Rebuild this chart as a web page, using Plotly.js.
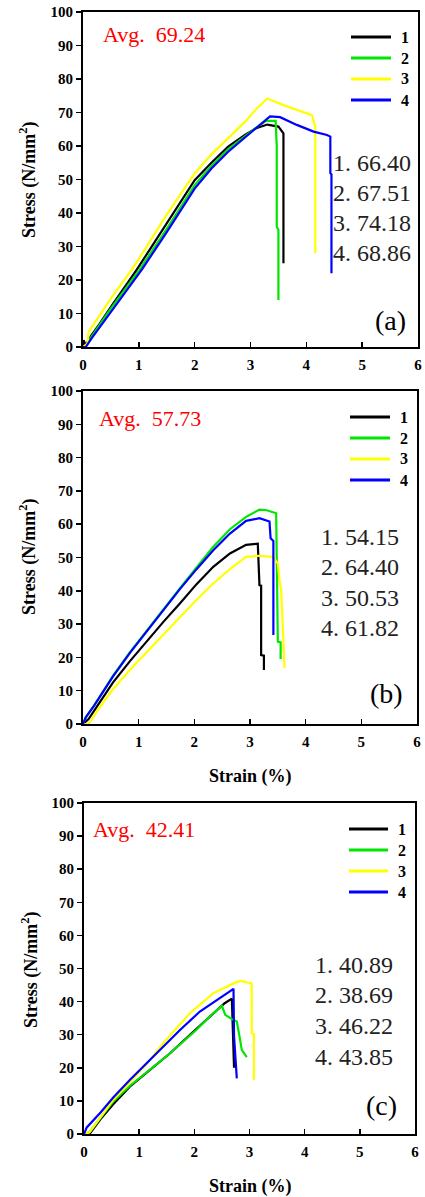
<!DOCTYPE html>
<html>
<head>
<meta charset="utf-8">
<script src="https://cdn.plot.ly/plotly-3.0.1.min.js"></script>
<style>html,body{margin:0;padding:0;background:#fff;}#chart{width:425px;height:1197px;}</style>
</head>
<body>
<div id="chart"></div>
<script>
// ---------- DATA ----------
const seriesNames = ["1", "2", "3", "4"];
const seriesColors = ["#000000", "#00e600", "#ffff00", "#0000ff"];
const panelLabels = ["(a)", "(b)", "(c)"];
const avgTexts = ["Avg.  69.24", "Avg.  57.73", "Avg.  42.41"];
const peakA = ["66.40", "67.51", "74.18", "68.86"];
const peakB = ["54.15", "64.40", "50.53", "61.82"];
const peakC = ["40.89", "38.69", "46.22", "43.85"];
const xTicks = [0, 1, 2, 3, 4, 5, 6];
const yTicks = [0, 10, 20, 30, 40, 50, 60, 70, 80, 90, 100];

// Panel (a)
const strainA1 = [0, 0.01, 0.05, 0.15, 0.3, 0.5, 0.96, 1.5, 2.0, 2.3, 2.6, 2.9, 3.1, 3.3, 3.5, 3.59, 3.59];
const stressA1 = [0, 2, 0.5, 3.5, 7, 12, 23, 37, 49.8, 55, 59.8, 63.3, 65.3, 66.4, 65.8, 63.8, 25];
const strainA2 = [0, 0.05, 0.15, 0.3, 0.5, 1.01, 1.5, 2.0, 2.3, 2.6, 2.9, 3.1, 3.28, 3.45, 3.47, 3.47, 3.5, 3.5];
const stressA2 = [0, 0.5, 3, 6.5, 11.5, 23, 35.3, 48.3, 54, 59, 63, 65.5, 67.51, 67.5, 60, 35.9, 35, 14];
const strainA3 = [0, 0.08, 0.1, 0.3, 0.5, 0.87, 1.0, 1.5, 2.0, 2.3, 2.6, 2.9, 3.1, 3.3, 3.59, 3.83, 4.1, 4.16, 4.16];
const stressA3 = [0, 1, 4.5, 9.5, 14.5, 23, 26.3, 39.5, 51.8, 57.5, 62.5, 67.2, 71, 74.18, 72.2, 70.7, 69.2, 65.8, 28];
const strainA4 = [0, 0.05, 0.15, 0.3, 0.5, 1.05, 1.5, 2.0, 2.3, 2.6, 2.9, 3.1, 3.35, 3.53, 3.83, 4.13, 4.37, 4.43, 4.43, 4.45, 4.45];
const stressA4 = [0, 0, 2.5, 6, 10.5, 23, 34.3, 47.3, 53.3, 58.3, 62.5, 65.5, 68.86, 68.6, 66.3, 64.3, 63.3, 62.8, 51.9, 51.5, 22];

// Panel (b)
const strainB1 = [0, 0.1, 0.3, 0.54, 0.84, 1.14, 1.44, 1.74, 2.04, 2.34, 2.64, 2.93, 3.14, 3.17, 3.2, 3.2, 3.25, 3.25];
const stressB1 = [0, 1.5, 6.5, 12.5, 18.8, 24.8, 30.6, 36.2, 42, 47.2, 51.2, 53.8, 54.15, 41.7, 41.5, 20.7, 20.5, 16.2];
const strainB2 = [0, 0.05, 0.2, 0.54, 0.84, 1.14, 1.44, 1.74, 2.04, 2.34, 2.64, 2.93, 3.17, 3.3, 3.47, 3.49, 3.5, 3.55, 3.55];
const stressB2 = [0, 2, 5.5, 14.5, 21.5, 28, 34.5, 40.7, 47, 53.2, 58.5, 62.2, 64.4, 64.2, 63.3, 40, 24.7, 24.5, 19.5];
const strainB3 = [0, 0.1, 0.3, 0.54, 0.84, 1.14, 1.44, 1.74, 2.04, 2.34, 2.64, 2.93, 3.17, 3.41, 3.5, 3.53, 3.56, 3.56, 3.6, 3.6, 3.62];
const stressB3 = [0, 0, 5, 10.5, 16.2, 21.5, 27, 32.2, 37.3, 42.2, 46.5, 50.2, 50.53, 50.2, 48.2, 43.2, 40.2, 40, 25.2, 25, 16.8];
const strainB4 = [0, 0.05, 0.2, 0.54, 0.84, 1.14, 1.44, 1.74, 2.04, 2.34, 2.64, 2.93, 3.17, 3.35, 3.37, 3.42, 3.42];
const stressB4 = [0, 2, 5.5, 14.3, 21.3, 27.8, 34.3, 40.5, 46.5, 52.2, 57.2, 61, 61.82, 60.8, 55.8, 55, 26.7];

// Panel (c)
const strainC1 = [0, 0.1, 0.3, 0.53, 0.83, 1.14, 1.56, 2.04, 2.28, 2.55, 2.68, 2.7, 2.72];
const stressC1 = [0, 0, 4.5, 9, 14.3, 18.5, 24.4, 31.8, 35.5, 39.5, 40.89, 30, 20];
const strainC2 = [0, 0.1, 0.3, 0.53, 0.83, 1.14, 1.56, 2.04, 2.28, 2.5, 2.56, 2.71, 2.77, 2.82, 2.86, 2.95];
const stressC2 = [0, 0.5, 5, 9.8, 14.5, 18.8, 24.4, 31.5, 35.5, 38.69, 36, 34.4, 34, 29.4, 25.4, 23.2];
const strainC3 = [0, 0.1, 0.3, 0.53, 0.84, 1.14, 1.44, 1.92, 2.34, 2.55, 2.71, 2.83, 3.04, 3.04, 3.08, 3.08];
const stressC3 = [0, 0.5, 5, 10.3, 15.8, 21.2, 27.5, 36.5, 42.5, 44.3, 45.5, 46.22, 45.5, 30.4, 30.2, 16.3];
const strainC4 = [0, 0.05, 0.3, 0.53, 0.83, 1.14, 1.44, 1.74, 2.1, 2.34, 2.55, 2.71, 2.72, 2.77];
const stressC4 = [0, 2, 6.5, 11, 16.3, 21.4, 26.4, 31.4, 37, 39.8, 42, 43.85, 29.4, 16.8];

const panels = [
  {xs: [strainA1, strainA2, strainA3, strainA4], ys: [stressA1, stressA2, stressA3, stressA4], peaks: peakA},
  {xs: [strainB1, strainB2, strainB3, strainB4], ys: [stressB1, stressB2, stressB3, stressB4], peaks: peakB},
  {xs: [strainC1, strainC2, strainC3, strainC4], ys: [stressC1, stressC2, stressC3, stressC4], peaks: peakC}
];

// ---------- LAYOUT GEOMETRY (pixels) ----------
const W = 425, H = 1197;
const fx = p => p / W;
const fy = p => 1 - p / H;
const geom = [
  {l: 83, r: 418, t: 12, b: 347, avg: [101, 34], legX: [351, 391], legY: [37, 58, 79, 100], valX: 331, valY: [163, 193, 223, 253], lab: [408, 320], ytitle: [28, 180], xtitle: null},
  {l: 83, r: 417, t: 391, b: 724, avg: [97, 418], legX: [350, 390], legY: [417, 438, 459, 480], valX: 319, valY: [537, 567, 598, 628], lab: [405, 693], ytitle: [28, 557], xtitle: [250, 776]},
  {l: 84, r: 415, t: 803, b: 1134, avg: [91, 829], legX: [349, 388], legY: [829, 850, 871, 892], valX: 313, valY: [965, 995, 1026, 1057], lab: [399, 1105], ytitle: [30, 970], xtitle: [250, 1186]}
];

const serif = "Liberation Serif, Times New Roman, serif";
const traces = [];
const layout = {
  width: W, height: H,
  margin: {l: 0, r: 0, t: 0, b: 0},
  paper_bgcolor: "#ffffff", plot_bgcolor: "#ffffff",
  showlegend: false,
  shapes: [], annotations: []
};

panels.forEach((p, i) => {
  const g = geom[i];
  const xa = i === 0 ? "x" : "x" + (i + 1);
  const ya = i === 0 ? "y" : "y" + (i + 1);
  const xk = i === 0 ? "xaxis" : "xaxis" + (i + 1);
  const yk = i === 0 ? "yaxis" : "yaxis" + (i + 1);
  p.xs.forEach((xs, k) => {
    traces.push({
      type: "scatter", mode: "lines", x: xs, y: p.ys[k], name: seriesNames[k],
      xaxis: xa, yaxis: ya,
      line: {color: seriesColors[k], width: 2.2, shape: "linear"},
      hoverinfo: "skip"
    });
  });
  layout[xk] = {
    domain: [fx(g.l), fx(g.r)], anchor: ya, range: [0, 6], tickvals: xTicks,
    ticks: "inside", ticklen: 5, tickwidth: 1.5, tickcolor: "#000", ticklabelstandoff: 3,
    showline: true, mirror: true, linewidth: 2, linecolor: "#000",
    showgrid: false, zeroline: false, fixedrange: true,
    tickfont: {family: serif, size: 15, color: "#000", weight: "bold"}
  };
  layout[yk] = {
    domain: [fy(g.b), fy(g.t)], anchor: xa, range: [0, 100], tickvals: yTicks,
    ticks: "outside", ticklen: 5, tickwidth: 1.5, tickcolor: "#000",
    showline: true, mirror: true, linewidth: 2, linecolor: "#000",
    showgrid: false, zeroline: false, fixedrange: true,
    tickfont: {family: serif, size: 15, color: "#000", weight: "bold"}
  };
  layout.annotations.push({
    xref: "paper", yref: "paper", x: fx(g.avg[0]), y: fy(g.avg[1]), xanchor: "left", yanchor: "middle",
    text: avgTexts[i], showarrow: false, font: {family: serif, size: 22, color: "#ff0000"}
  });
  seriesNames.forEach((n, k) => {
    layout.shapes.push({
      type: "line", xref: "paper", yref: "paper",
      x0: fx(g.legX[0]), x1: fx(g.legX[1]), y0: fy(g.legY[k]), y1: fy(g.legY[k]),
      line: {color: seriesColors[k], width: 3}
    });
    layout.annotations.push({
      xref: "paper", yref: "paper", x: fx(g.legX[1] + 8), y: fy(g.legY[k]), xanchor: "left", yanchor: "middle",
      text: n, showarrow: false, font: {family: serif, size: 16, color: "#000", weight: "bold"}
    });
    layout.annotations.push({
      xref: "paper", yref: "paper", x: fx(g.valX), y: fy(g.valY[k]), xanchor: "left", yanchor: "middle",
      text: n + ". " + p.peaks[k], showarrow: false, font: {family: serif, size: 24, color: "#222"}
    });
  });
  layout.annotations.push({
    xref: "paper", yref: "paper", x: fx(g.lab[0]), y: fy(g.lab[1]), xanchor: "right", yanchor: "middle",
    text: panelLabels[i], showarrow: false, font: {family: serif, size: 28, color: "#000"}
  });
  layout.annotations.push({
    xref: "paper", yref: "paper", x: fx(g.ytitle[0]), y: fy(g.ytitle[1]), xanchor: "center", yanchor: "middle",
    textangle: -90, text: "Stress (N/mm<sup>2</sup>)", showarrow: false,
    font: {family: serif, size: 18, color: "#000", weight: "bold"}
  });
  if (g.xtitle) {
    layout.annotations.push({
      xref: "paper", yref: "paper", x: fx(g.xtitle[0]), y: fy(g.xtitle[1]), xanchor: "center", yanchor: "middle",
      text: "Strain (%)", showarrow: false,
      font: {family: serif, size: 18, color: "#000", weight: "bold"}
    });
  }
});

Plotly.newPlot("chart", traces, layout, {displayModeBar: false, staticPlot: true});
</script>
</body>
</html>
